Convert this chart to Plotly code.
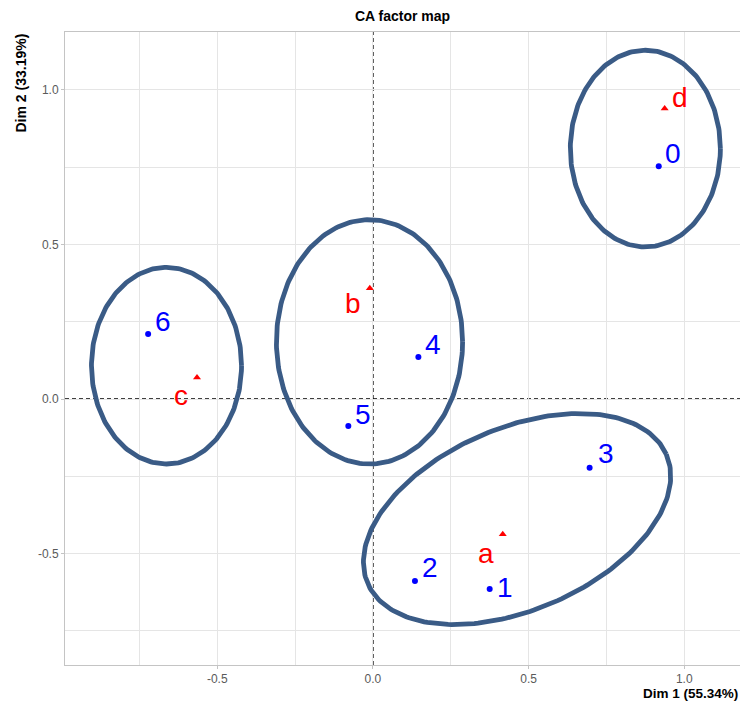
import numpy as np
import plotly.graph_objects as go

# ---------------- data ----------------
row_labels = ["0", "1", "2", "3", "4", "5", "6"]
row_dim1 = [0.918, 0.375, 0.135, 0.696, 0.146, -0.079, -0.722]
row_dim2 = [0.753, -0.614, -0.588, -0.222, 0.136, -0.087, 0.210]

col_labels = ["a", "b", "c", "d"]
col_dim1 = [0.417, -0.010, -0.565, 0.937]
col_dim2 = [-0.437, 0.358, 0.070, 0.940]

# cluster ellipses: centre, semi-axes, rotation (degrees)
ell_cx = [0.875, -0.011, -0.663, 0.463]
ell_cy = [0.810, 0.185, 0.108, -0.388]
ell_a = [0.241, 0.299, 0.241, 0.523]
ell_b = [0.318, 0.395, 0.318, 0.294]
ell_rot = [0.0, 0.0, 0.0, 23.6]

x_ticks = [-0.5, 0.0, 0.5, 1.0]
y_ticks = [-0.5, 0.0, 0.5, 1.0]

title_text = "CA factor map"
x_title = "Dim 1 (55.34%)"
y_title = "Dim 2 (33.19%)"

# ---------------- style ----------------
# the page body adds an 8px margin all round, so the figure is sized to fit
W, H = 732, 695
ML, MR, MT, MB = 57, 0, 24, 38
XR = [-0.989, 1.179]
YR = [-0.860, 1.187]
font_main = "Liberation Sans, Arial, sans-serif"
ell_color = "#3a5b86"

# label pixel offsets (xshift, yshift)
row_off = {"0": (14, 13), "1": (15, 1), "2": (15, 13), "3": (16, 14),
           "4": (15, 13), "5": (15, 11), "6": (15, 13)}
col_off = {"a": (-17, -19), "b": (-17, -15), "c": (-16, -18), "d": (15, 11)}

fig = go.Figure()

# ellipses
t = np.linspace(0, 2 * np.pi, 241)
for cx, cy, a, b, r in zip(ell_cx, ell_cy, ell_a, ell_b, ell_rot):
    th = np.deg2rad(r)
    ex = cx + a * np.cos(t) * np.cos(th) - b * np.sin(t) * np.sin(th)
    ey = cy + a * np.cos(t) * np.sin(th) + b * np.sin(t) * np.cos(th)
    fig.add_trace(go.Scatter(x=ex, y=ey, mode="lines",
                             line=dict(color=ell_color, width=4.8),
                             hoverinfo="skip", showlegend=False))

fig.add_trace(go.Scatter(x=row_dim1, y=row_dim2, mode="markers",
                         marker=dict(color="blue", size=6, symbol="circle"),
                         text=row_labels, showlegend=False))
fig.add_trace(go.Scatter(x=col_dim1, y=col_dim2, mode="markers",
                         marker=dict(color="red", size=7, symbol="triangle-up"),
                         text=col_labels, showlegend=False))

annotations = []
for lab, x, y in zip(row_labels, row_dim1, row_dim2):
    dx, dy = row_off[lab]
    annotations.append(dict(x=x, y=y, text=lab, showarrow=False, xshift=dx, yshift=dy,
                            font=dict(color="blue", size=28, family=font_main)))
for lab, x, y in zip(col_labels, col_dim1, col_dim2):
    dx, dy = col_off[lab]
    annotations.append(dict(x=x, y=y, text=lab, showarrow=False, xshift=dx, yshift=dy,
                            font=dict(color="red", size=28, family=font_main)))

plot_h = H - MT - MB
plot_w = W - ML - MR
annotations.append(dict(xref="paper", yref="paper", x=1, y=-MB / plot_h, xanchor="right",
                        yanchor="bottom", text="<b>" + x_title + "</b>", showarrow=False,
                        font=dict(size=13.5, color="black", family=font_main)))
annotations.append(dict(xref="paper", yref="paper", x=-45 / plot_w, y=1, xanchor="center",
                        yanchor="top", text="<b>" + y_title + "</b>", textangle=-90,
                        showarrow=False, font=dict(size=14, color="black", family=font_main)))

shapes = [
    dict(type="line", xref="x", yref="paper", x0=0, x1=0, y0=0, y1=1,
         line=dict(color="black", width=1.4, dash="4px,3px"), layer="between"),
    dict(type="line", xref="paper", yref="y", x0=0, x1=1, y0=0, y1=0,
         line=dict(color="black", width=1.4, dash="4px,3px"), layer="between"),
]

axis_common = dict(showgrid=True, gridcolor="#e5e5e5", gridwidth=1, zeroline=False,
                   showline=True, linecolor="#c4c4c4", linewidth=1, mirror=True,
                   ticks="outside", ticklen=3, tickcolor="#c4c4c4",
                   tickfont=dict(size=12, color="#5a5a5a", family=font_main),
                   minor=dict(showgrid=True, gridcolor="#e5e5e5", gridwidth=1, dtick=0.25))

fig.update_layout(
    width=W, height=H,
    margin=dict(l=ML, r=MR, t=MT, b=MB),
    plot_bgcolor="white", paper_bgcolor="white",
    title=dict(text="<b>" + title_text + "</b>", x=(ML + plot_w / 2) / W, xanchor="center",
               y=1 - 8 / H, yanchor="middle",
               font=dict(size=14, color="black", family=font_main)),
    xaxis=dict(range=XR, tickvals=x_ticks, ticktext=[f"{v:.1f}" for v in x_ticks], **axis_common),
    yaxis=dict(range=YR, tickvals=y_ticks, ticktext=[f"{v:.1f}" for v in y_ticks], **axis_common),
    annotations=annotations,
    shapes=shapes,
    showlegend=False,
)

fig.write_html("out.html")
